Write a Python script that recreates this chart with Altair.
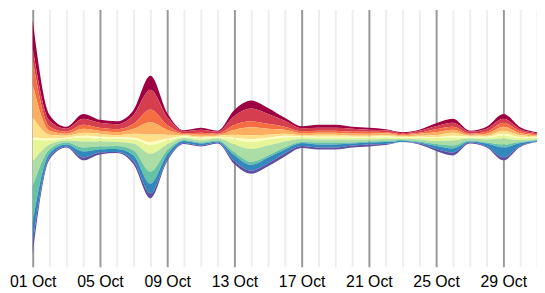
import altair as alt
import pandas as pd

days = list(range(1, 32))

series_names = ["s01", "s02", "s03", "s04", "s05", "s06", "s07", "s08", "s09", "s10", "s11"]
colors = ["#9e0142", "#d53e4f", "#f46d43", "#fdae61", "#fee08b", "#ffffbf",
          "#e6f598", "#abdda4", "#66c2a5", "#3288bd", "#5e4fa2"]

#        1   2  3  4  5  6  7   8  9 10 11 12 13 14  15 16 17 18 19 20 21 22 23 24 25 26 27 28 29  30 31
s01 = [28, 6, 2, 5, 3, 3, 5, 14, 4, 1, 2, 1, 6, 8, 6, 3, 2, 3, 3, 2, 2, 1, 1, 1, 3, 4, 1, 2, 5, 2, 1]
s02 = [12, 6, 3, 6, 5, 5, 9, 20, 8, 2, 3, 2, 9, 13, 10, 6, 3, 3, 3, 3, 2, 2, 1, 2, 3, 4, 2, 3, 4, 2, 1]
s03 = [25, 4, 2, 4, 3, 3, 5, 13, 5, 1, 2, 1, 5, 6, 5, 3, 2, 2, 2, 2, 2, 1, 1, 1, 3, 3, 1, 2, 4, 2, 1]
s04 = [33, 4, 2, 4, 3, 3, 5, 12, 5, 1, 2, 1, 5, 8, 6, 4, 2, 2, 2, 2, 2, 2, 1, 2, 3, 3, 1, 2, 4, 2, 1]
s05 = [20, 4, 2, 3, 3, 2, 4, 8, 4, 1, 1, 1, 3, 4, 3, 2, 1, 2, 2, 1, 1, 1, 1, 1, 2, 3, 1, 1, 3, 2, 1]
s06 = [3, 2, 1, 2, 2, 2, 2, 3, 2, 1, 1, 1, 2, 3, 2, 2, 1, 1, 1, 1, 1, 1, 1, 1, 1, 2, 1, 1, 2, 1, 1]
s07 = [22, 4, 2, 4, 3, 3, 4, 9, 4, 1, 2, 1, 5, 7, 6, 4, 2, 2, 2, 2, 2, 2, 1, 2, 3, 3, 1, 2, 3, 2, 1]
s08 = [25, 5, 2, 6, 5, 4, 7, 18, 6, 2, 2, 2, 8, 13, 10, 6, 3, 3, 3, 3, 2, 2, 1, 2, 3, 5, 2, 3, 6, 2, 1]
s09 = [36, 4, 2, 4, 3, 3, 5, 12, 4, 1, 1, 1, 3, 3, 2, 2, 1, 2, 2, 1, 1, 1, 1, 1, 2, 3, 1, 1, 3, 1, 1]
s10 = [22, 4, 2, 6, 3, 3, 6, 10, 5, 2, 2, 1, 6, 6, 6, 4, 3, 3, 3, 2, 2, 2, 1, 1, 3, 4, 1, 3, 10, 3, 1]
s11 = [10, 2, 1, 3, 2, 1, 3, 5, 2, 1, 1, 1, 3, 3, 3, 3, 2, 2, 2, 2, 2, 1, 0, 1, 2, 3, 1, 1, 3, 1, 0]

series_vals = [s01, s02, s03, s04, s05, s06, s07, s08, s09, s10, s11]

rows = []
for i, (name, vals) in enumerate(zip(series_names, series_vals)):
    for d, v in zip(days, vals):
        rows.append({"date": f"2023-10-{d:02d}T00:00:00", "series": name, "idx": i, "value": v})
df = pd.DataFrame(rows)

major = "(date(datum.value) - 1) % 4 === 0"

chart = alt.Chart(df).mark_area(interpolate="monotone").encode(
    x=alt.X(
        "date:T",
        scale=alt.Scale(
            domain=[alt.DateTime(year=2023, month=10, date=1),
                    alt.DateTime(year=2023, month=10, date=31)],
            nice=False, padding=0),
        axis=alt.Axis(
            title=None,
            tickCount={"interval": "day", "step": 1},
            grid=True, ticks=False, domain=False,
            gridColor={"condition": {"test": major, "value": "#999999"}, "value": "#eeeeee"},
            gridWidth=2,
            labelExpr=f"{major} ? timeFormat(datum.value, '%d %b') : ''",
            labelFontSize=16, labelFont="Liberation Sans", labelColor="#000000",
            labelPadding=7, labelFlush=False, labelOverlap=False,
        ),
    ),
    y=alt.Y("value:Q", stack="center",
            scale=alt.Scale(domain=[-13, 247], nice=False, zero=False),
            axis=None),
    color=alt.Color("series:N", scale=alt.Scale(domain=series_names, range=colors), legend=None),
    order=alt.Order("idx:Q", sort="descending"),
).properties(
    width=510, height=260,
    padding={"left": 25, "top": 0, "right": 0, "bottom": 22},
    autosize=alt.AutoSizeParams(type="none"),
).configure_view(stroke=None)

chart.save("out.html", embed_options={"renderer": "svg", "actions": False})
